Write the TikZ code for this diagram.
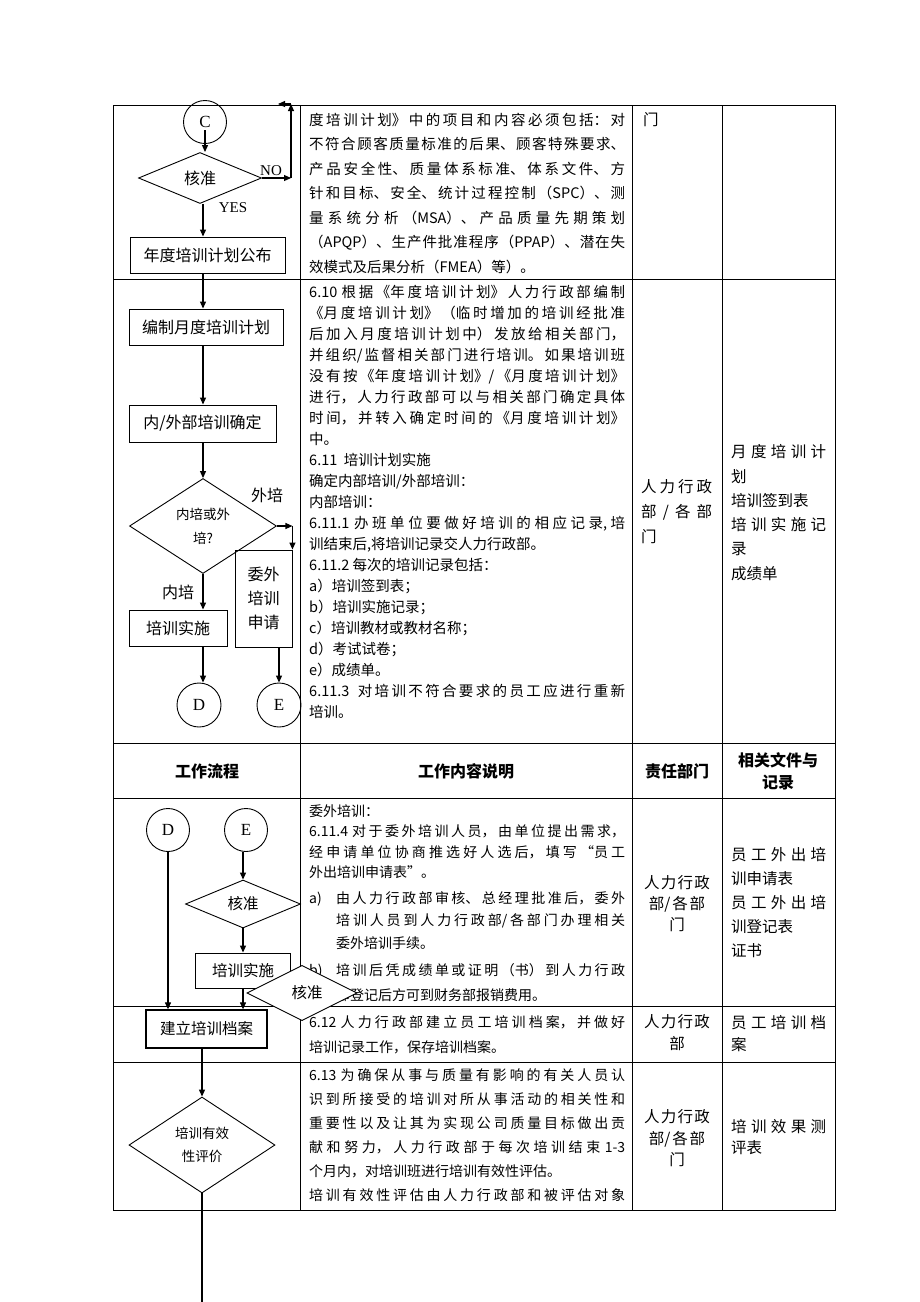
\documentclass[tikz,border=0pt]{standalone}
\usepackage{fontspec}
\setmainfont{Noto Sans CJK SC}
\newfontfamily\latinserif{Liberation Serif}
\usetikzlibrary{shapes.geometric,arrows.meta}
\XeTeXlinebreaklocale "zh"
\XeTeXlinebreakskip=0pt plus 4pt
\tolerance=10000
\hbadness=10000

\begin{document}
\begin{tikzpicture}[x=1pt, y=-1pt, >={Triangle[length=7pt,width=6pt]},
    tbl/.style={line width=0.8pt},
    proc/.style={rectangle, draw, line width=0.9pt, inner sep=0pt, align=center, font=\fontsize{16}{24}\selectfont},
    dec/.style={diamond, draw, line width=0.9pt, inner sep=0pt, aspect=1, align=center},
    conn/.style={circle, draw, line width=0.9pt, minimum size=43pt, inner sep=0pt, font=\latinserif\fontsize{17}{20}\selectfont},
    flow/.style={->, line width=1.1pt},
    lbl/.style={inner sep=0pt, font=\fontsize{16}{20}\selectfont},
    head/.style={inner sep=0pt, align=center, font=\bfseries\fontsize{16}{22}\selectfont},
    body/.style={anchor=base west, inner sep=0pt, text width=#1, align=justify},
    dept/.style={anchor=base, inner sep=0pt, text width=84pt, align=center, font=\fontsize{15.5}{#1}\selectfont}]

    \useasboundingbox (0,0) rectangle (920,1302);

    % Table
    \draw[tbl] (113,105) rectangle (835,1210);
    \foreach \x in {300,632,722} \draw[tbl] (\x,105) -- (\x,1210);
    \foreach \y in {279,743,798,1006,1062} \draw[tbl] (113,\y) -- (835,\y);

    % Header
    \node[head] (hflow) at (207,771) {工作流程};
    \node[head] (hdesc) at (466,771) {工作内容说明};
    \node[head] (hdept) at (677,771) {责任部门};
    \node[head] (hdoc) at (778,771) {相关文件与\\记录};

    % Nodes
    \coordinate (sp) at (203,0);
    \node[conn] (C) at (205,122) {C};
    \node[dec, minimum width=123pt, minimum height=51pt, font=\fontsize{16}{20}\selectfont] (chk1) at (200,178) {核准};
    \node[proc, minimum width=155pt, minimum height=36pt] (yr) at (207.5,255) {年度培训计划公布};
    \node[proc, minimum width=154pt, minimum height=36pt] (mon) at (206,327) {编制月度培训计划};
    \node[proc, minimum width=147pt, minimum height=37pt] (io) at (202.5,423.5) {内/外部培训确定};
    \node[dec, minimum width=147pt, minimum height=95pt, font=\fontsize{13.5}{24}\selectfont] (dec2) at (203,526) {内培或外\\培?};
    \node[proc, minimum width=57pt, minimum height=97pt] (ext) at (263.5,598.5) {委外\\培训\\申请};
    \node[proc, minimum width=98pt, minimum height=36pt] (impl) at (178,628) {培训实施};
    \node[conn, minimum size=44pt] (D) at (199,705) {D};
    \node[conn, minimum size=44pt] (E) at (279,705) {E};

    \node[conn] (D2) at (168,830) {D};
    \node[conn] (E2) at (246,830) {E};
    \node[dec, minimum width=115pt, minimum height=48pt, font=\fontsize{15.5}{20}\selectfont] (chk2) at (243,904) {核准};
    \node[proc, minimum width=95pt, minimum height=35pt, font=\fontsize{15.5}{20}\selectfont] (impl2) at (243,970.5) {培训实施};
    \node[proc, line width=1.3pt, minimum width=121pt, minimum height=38pt, font=\fontsize{15.5}{20}\selectfont] (bldg) at (206.5,1029) {建立培训档案};
    \node[dec, minimum width=146pt, minimum height=96pt, font=\fontsize{13.5}{23}\selectfont] (eval) at (202,1145) {培训有效\\性评价};

    % Labels
    \node[lbl, font=\latinserif\fontsize{15}{18}\selectfont] (no) at (271,171) {NO};
    \node[lbl, font=\latinserif\fontsize{15}{18}\selectfont] (yes) at (233,208) {YES};
    \node[lbl] (wp) at (267,495) {外培};
    \node[lbl] (np) at (178,592) {内培};

    % Transitions
    \coordinate (no1) at (291,178);
    \coordinate (no2) at (291,104);
    \coordinate (no3) at (278,104);
    \draw[flow] ([yshift=-8pt]C.center) -- (C |- chk1.north);
    \draw[flow] (chk1.east) -- (no1);
    \draw[flow] (no1) -- (no2);
    \draw[flow] (no2) -- (no3);
    \draw[flow] (sp |- chk1.south) -- (sp |- yr.north);
    \draw[flow] (sp |- yr.south) -- (sp |- mon.north);
    \draw[flow] (sp |- mon.south) -- (sp |- io.north);
    \draw[flow] (sp |- io.south) -- (dec2.north);
    \draw[flow] (dec2.south) -- (sp |- impl.north);
    \draw[flow] (sp |- impl.south) -- (sp |- D.north);
    \coordinate (w1) at (ext.north east |- dec2.east);
    \draw[flow] (dec2.east) -- (w1);
    \draw[flow] (w1) -- (ext.north east);
    \draw[flow] (ext.south -| E) -- (E.north);

    \draw[flow] (D2.south) -- (D2.south |- bldg.north);
    \draw[flow] (chk2 |- E2.south) -- (chk2.north);
    \draw[flow] (chk2.south) -- (impl2.north);
    \draw[flow] (impl2.south) -- (impl2.south |- bldg.north);
    \draw[flow] (eval |- bldg.south) -- (eval.north);
    \coordinate (tail) at (202,1302);
    \draw[line width=1.1pt] (eval.south) -- (tail);

    % Texts
    \node[body=316pt, font=\fontsize{14.5}{24.5}\selectfont] (t1) at (309,125.4) {度培训计划》中的项目和内容必须包括：对\linebreak
    不符合顾客质量标准的后果、顾客特殊要求、\linebreak
    产品安全性、质量体系标准、体系文件、方\linebreak
    针和目标、安全、统计过程控制（SPC）、测\linebreak
    量系统分析（MSA）、产品质量先期策划\linebreak
    （APQP）、生产件批准程序（PPAP）、潜在失\linebreak
    效模式及后果分析（FMEA）等）。};
    \node[body=12pt, font=\fontsize{15.5}{20}\selectfont] (r1c3) at (643,125.7) {门};

    \node[body=316pt, font=\fontsize{14.5}{21}\selectfont] (t2) at (309,297.4) {6.10 根据《年度培训计划》人力行政部编制\linebreak
    《月度培训计划》（临时增加的培训经批准\linebreak
    后加入月度培训计划中）发放给相关部门，\linebreak
    并组织/监督相关部门进行培训。如果培训班\linebreak
    没有按《年度培训计划》/《月度培训计划》\linebreak
    进行，人力行政部可以与相关部门确定具体\linebreak
    时间，并转入确定时间的《月度培训计划》\linebreak
    中。\newline
    6.11\ \ 培训计划实施\newline
    确定内部培训/外部培训：\newline
    内部培训：\newline
    6.11.1 办班单位要做好培训的相应记录,培\linebreak
    训结束后,将培训记录交人力行政部。\newline
    6.11.2 每次的培训记录包括：\newline
    a）培训签到表；\newline
    b）培训实施记录；\newline
    c）培训教材或教材名称；\newline
    d）考试试卷；\newline
    e）成绩单。\newline
    6.11.3\ \ 对培训不符合要求的员工应进行重新\linebreak
    培训。};
    \node[body=71pt, font=\fontsize{15.5}{25}\selectfont] (r2c3) at (641,492.7) {人力行政\linebreak 部 / 各 部\linebreak 门};
    \node[body=95pt, font=\fontsize{15.5}{24.3}\selectfont] (r2c4) at (731,457.7) {月度培训计\linebreak 划\newline 培训签到表\newline 培训实施记\linebreak 录\newline 成绩单};

    \node[body=316pt, font=\fontsize{14}{20.5}\selectfont] (t4) at (309,816.2) {委外培训：\newline
    6.11.4 对于委外培训人员，由单位提出需求，\linebreak
    经申请单位协商推选好人选后，填写“员工\linebreak
    外出培训申请表”。};
    \node[body=20pt, font=\fontsize{14}{20}\selectfont] (ia) at (309,903.2) {a)};
    \node[body=289pt, font=\fontsize{14}{22.5}\selectfont] (t4a) at (336,903.2) {由人力行政部审核、总经理批准后，委外\linebreak
    培训人员到人力行政部/各部门办理相关\linebreak
    委外培训手续。};
    \node[body=20pt, font=\fontsize{14}{20}\selectfont] (ib) at (309,975.2) {b)};
    \node[body=289pt, font=\fontsize{14}{24.8}\selectfont] (t4b) at (336,975.2) {培训后凭成绩单或证明（书）到人力行政\linebreak
    部登记后方可到财务部报销费用。};
    \node[dept=21] (r4c3) at (677,888.7) {人力行政\\部/各部\\门};
    \node[body=95pt, font=\fontsize{15.5}{24}\selectfont] (r4c4) at (731,860.7) {员工外出培\linebreak 训申请表\newline 员工外出培\linebreak 训登记表\newline 证书};

    \node[body=316pt, font=\fontsize{14}{25}\selectfont] (t5) at (309,1027.2) {6.12 人力行政部建立员工培训档案，并做好\linebreak
    培训记录工作，保存培训档案。};
    \node[dept=22] (r5c3) at (677,1027.7) {人力行政\\部};
    \node[body=95pt, font=\fontsize{15.5}{22}\selectfont] (r5c4) at (731,1028.7) {员工培训档\linebreak 案};

    \node[body=316pt, font=\fontsize{14}{24}\selectfont] (t6) at (309,1080.2) {6.13 为确保从事与质量有影响的有关人员认\linebreak
    识到所接受的培训对所从事活动的相关性和\linebreak
    重要性以及让其为实现公司质量目标做出贡\linebreak
    献和努力，人力行政部于每次培训结束 1-3\linebreak
    个月内，对培训班进行培训有效性评估。\newline
    培训有效性评估由人力行政部和被评估对象\linebreak};
    \node[dept=21.5] (r6c3) at (677,1122.7) {人力行政\\部/各部\\门};
    \node[body=95pt, font=\fontsize{15.5}{21}\selectfont] (r6c4) at (731,1132.7) {培训效果测\linebreak 评表};

    % Overlapping decision
    \node[dec, fill=white, minimum width=110pt, minimum height=50pt, font=\fontsize{15.5}{20}\selectfont] (chk3) at (302,993) {\hspace*{10pt}核准};

\end{tikzpicture}
\end{document}
